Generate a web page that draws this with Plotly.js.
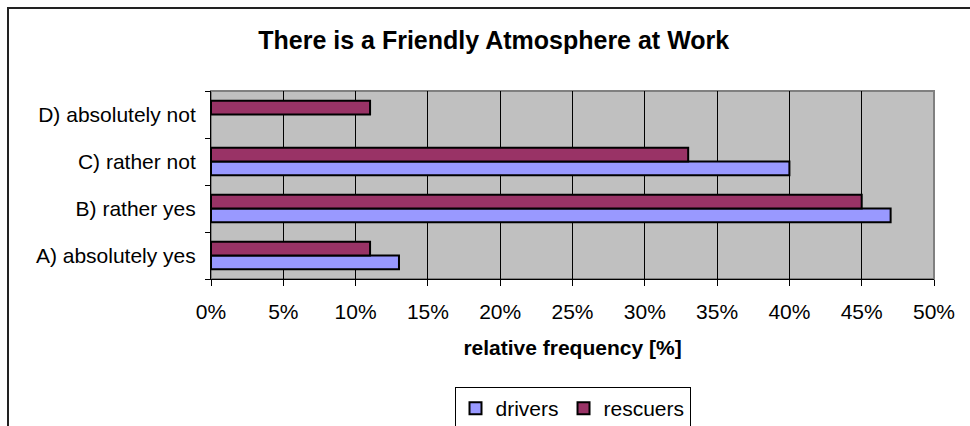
<!DOCTYPE html>
<html>
<head>
<meta charset="utf-8">
<script src="https://cdn.plot.ly/plotly-3.0.1.min.js"></script>
<style>
  html, body { margin: 0; padding: 0; background: #fff; }
  #chart { width: 970px; height: 426px; }
</style>
</head>
<body>
<div id="chart"></div>
<script>
// Survey answers, bottom to top
const categories = ["A) absolutely yes", "B) rather yes", "C) rather not", "D) absolutely not"];
const drivers = [13, 47, 40, 0];
const rescuers = [11, 45, 33, 11];
const xTicks = [0, 5, 10, 15, 20, 25, 30, 35, 40, 45, 50];

const W = 970, H = 426;
const M = { l: 211, r: 36, t: 91, b: 147 };
const pw = W - M.l - M.r, ph = H - M.t - M.b;
// pixel -> paper helpers for the outer chart frame
const px = v => (v - M.l) / pw;
const py = v => (H - M.b - v) / ph;

const font = "Liberation Sans, Arial, sans-serif";

// no outline on empty (zero) bars
const outline = vals => vals.map(v => (v > 0 ? 2 : 0));

const traces = [
  {
    type: "bar", orientation: "h", name: "drivers",
    y: categories, x: drivers,
    marker: { color: "#9999FF", line: { color: "#000", width: outline(drivers) } },
    hoverinfo: "skip"
  },
  {
    type: "bar", orientation: "h", name: "rescuers",
    y: categories, x: rescuers,
    marker: { color: "#993366", line: { color: "#000", width: outline(rescuers) } },
    hoverinfo: "skip"
  }
];

const layout = {
  width: W, height: H,
  margin: M,
  paper_bgcolor: "#fff",
  plot_bgcolor: "#C0C0C0",
  font: { family: font, size: 21, color: "#000" },
  title: {
    text: "<b>There is a Friendly Atmosphere at Work</b>",
    font: { family: font, size: 25, color: "#000" },
    x: 0.509, xanchor: "center",
    y: 1 - 40 / H, yanchor: "middle"
  },
  barmode: "group",
  bargap: 0.42,
  bargroupgap: 0,
  xaxis: {
    range: [0, 50],
    tickvals: xTicks,
    ticktext: xTicks.map(v => v + "%"),
    showgrid: true, gridcolor: "#000", gridwidth: 1,
    zeroline: false,
    showline: true, linecolor: "#000", linewidth: 1,
    ticks: "outside", ticklen: 6, tickcolor: "#000",
    ticklabelstandoff: 8,
    tickfont: { size: 21 },
    automargin: false,
    title: {
      text: "<b>relative frequency [%]</b>",
      font: { size: 21 },
      standoff: 18
    },
    fixedrange: true
  },
  yaxis: {
    type: "category",
    categoryorder: "array", categoryarray: categories,
    showgrid: false, zeroline: false,
    showline: true, linecolor: "#000", linewidth: 1,
    ticks: "outside", ticklen: 5, tickcolor: "#000",
    tickson: "boundaries",
    ticklabelstandoff: 10,
    tickfont: { size: 21 },
    automargin: false,
    fixedrange: true
  },
  legend: {
    orientation: "h",
    xref: "paper", x: 0.5, xanchor: "center",
    yref: "container", y: 1 - 387 / H, yanchor: "top",
    bgcolor: "#fff",
    bordercolor: "#000", borderwidth: 1,
    font: { size: 21 },
    traceorder: "normal",
    itemwidth: 30
  },
  shapes: [
    // grey plot-area border
    {
      type: "rect", xref: "paper", yref: "paper",
      x0: 0, x1: 1, y0: 0, y1: 1,
      line: { color: "#808080", width: 2 },
      layer: "between"
    },
    // outer chart frame
    {
      type: "rect", xref: "paper", yref: "paper",
      x0: px(8), x1: px(990), y0: py(440), y1: py(8),
      line: { color: "#222", width: 2 },
      layer: "below"
    }
  ]
};

Plotly.newPlot("chart", traces, layout, { staticPlot: true, displayModeBar: false });
</script>
</body>
</html>
